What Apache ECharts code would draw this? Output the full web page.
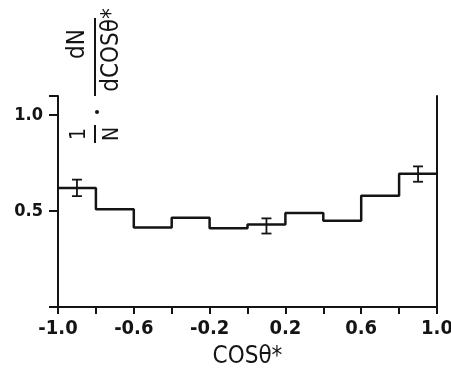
<!DOCTYPE html>
<html>
<head>
<meta charset="utf-8">
<script src="https://cdn.jsdelivr.net/npm/echarts@6/dist/echarts.min.js"></script>
<style>
  html, body { margin: 0; padding: 0; background: #fff; }
  #chart { width: 451px; height: 376px; }
</style>
</head>
<body>
<div id="chart"></div>
<script>
// histogram bins of cos theta*, width 0.2
const binEdges = [-1.0, -0.8, -0.6, -0.4, -0.2, 0.0, 0.2, 0.4, 0.6, 0.8, 1.0];
const binValues = [0.62, 0.51, 0.415, 0.465, 0.41, 0.43, 0.49, 0.45, 0.58, 0.695];

// error bars drawn on three bins only
const errX = [-0.9, 0.1, 0.9];
const errLow = [0.578, 0.383, 0.653];
const errHigh = [0.664, 0.462, 0.733];

const xTickLabels = ['-1.0', '-0.6', '-0.2', '0.2', '0.6', '1.0'];
const yTickLabels = { 0.5: '0.5', 1: '1.0' };

const ink = '#141414';
const font = '"DejaVu Sans Condensed", "Liberation Sans Narrow", "Liberation Sans", sans-serif';

const stepData = binValues.map((v, i) => [binEdges[i], v]);
stepData.push([binEdges[binEdges.length - 1], binValues[binValues.length - 1]]);

const errData = errX.map((x, i) => [x, errLow[i], errHigh[i]]);

const chart = echarts.init(document.getElementById('chart'));

function rotText(text, x, y, size) {
  return {
    type: 'text', x, y, rotation: Math.PI / 2,
    style: { text, fill: ink, font: `${size}px ${font}`, align: 'center', verticalAlign: 'middle' },
  };
}
function vLine(x, y1, y2) {
  return { type: 'line', shape: { x1: x, y1, x2: x, y2 }, style: { stroke: ink, lineWidth: 2 } };
}

chart.setOption({
  backgroundColor: '#fff',
  animation: false,
  grid: { left: 58, right: 14, top: 96, bottom: 69, outerBoundsMode: 'none' },
  xAxis: {
    type: 'value', min: -1, max: 1, interval: 0.4,
    name: 'COSθ*', nameLocation: 'middle', nameGap: 38,
    nameTextStyle: { color: ink, fontSize: 24, fontFamily: font },
    axisLine: { show: true, onZero: false, lineStyle: { color: ink, width: 2 } },
    axisTick: { show: true, length: 7, lineStyle: { color: ink, width: 2 } },
    minorTick: { show: true, splitNumber: 2, length: 7, lineStyle: { color: ink, width: 2 } },
    splitLine: { show: false },
    axisLabel: {
      color: ink, fontSize: 20, fontWeight: 'bold', fontFamily: font, margin: 12,
      formatter: v => xTickLabels.find(t => Math.abs(parseFloat(t) - v) < 1e-6) || '',
    },
  },
  yAxis: [
    {
      type: 'value', min: 0, max: 1.1, interval: 0.5,
      axisLine: { show: true, onZero: false, lineStyle: { color: ink, width: 2 } },
      axisTick: { show: true, length: 9, lineStyle: { color: ink, width: 2 } },
      splitLine: { show: false },
      axisLabel: {
        color: ink, fontSize: 18, fontWeight: 'bold', fontFamily: font, margin: 15,
        formatter: v => yTickLabels[Math.round(v * 10) / 10] || '',
      },
    },
    {
      type: 'value', min: 0, max: 1.1, position: 'right',
      axisLine: { show: true, onZero: false, lineStyle: { color: ink, width: 2 } },
      axisTick: { show: false }, axisLabel: { show: false }, splitLine: { show: false },
    },
  ],
  series: [
    {
      type: 'line', step: 'end', data: stepData, symbol: 'none',
      lineStyle: { color: ink, width: 2.5 },
    },
    {
      type: 'custom', data: errData,
      renderItem(params, api) {
        const x = api.value(0);
        const lo = api.coord([x, api.value(1)]);
        const hi = api.coord([x, api.value(2)]);
        const w = 5;
        const st = { stroke: ink, lineWidth: 1.8 };
        return {
          type: 'group',
          children: [
            { type: 'line', shape: { x1: lo[0], y1: lo[1], x2: hi[0], y2: hi[1] }, style: st },
            { type: 'line', shape: { x1: lo[0] - w, y1: lo[1], x2: lo[0] + w, y2: lo[1] }, style: st },
            { type: 'line', shape: { x1: hi[0] - w, y1: hi[1], x2: hi[0] + w, y2: hi[1] }, style: st },
          ],
        };
      },
    },
  ],
  graphic: [
    rotText('dN', 78, 44, 24),
    vLine(95, 18, 96),
    rotText('dCOSθ*', 112, 50, 24),
    { type: 'circle', shape: { cx: 97, cy: 112, r: 2 }, style: { fill: ink } },
    rotText('1', 80, 134, 21),
    vLine(95, 125, 143),
    rotText('N', 113, 134, 21),
  ],
});
</script>
</body>
</html>
